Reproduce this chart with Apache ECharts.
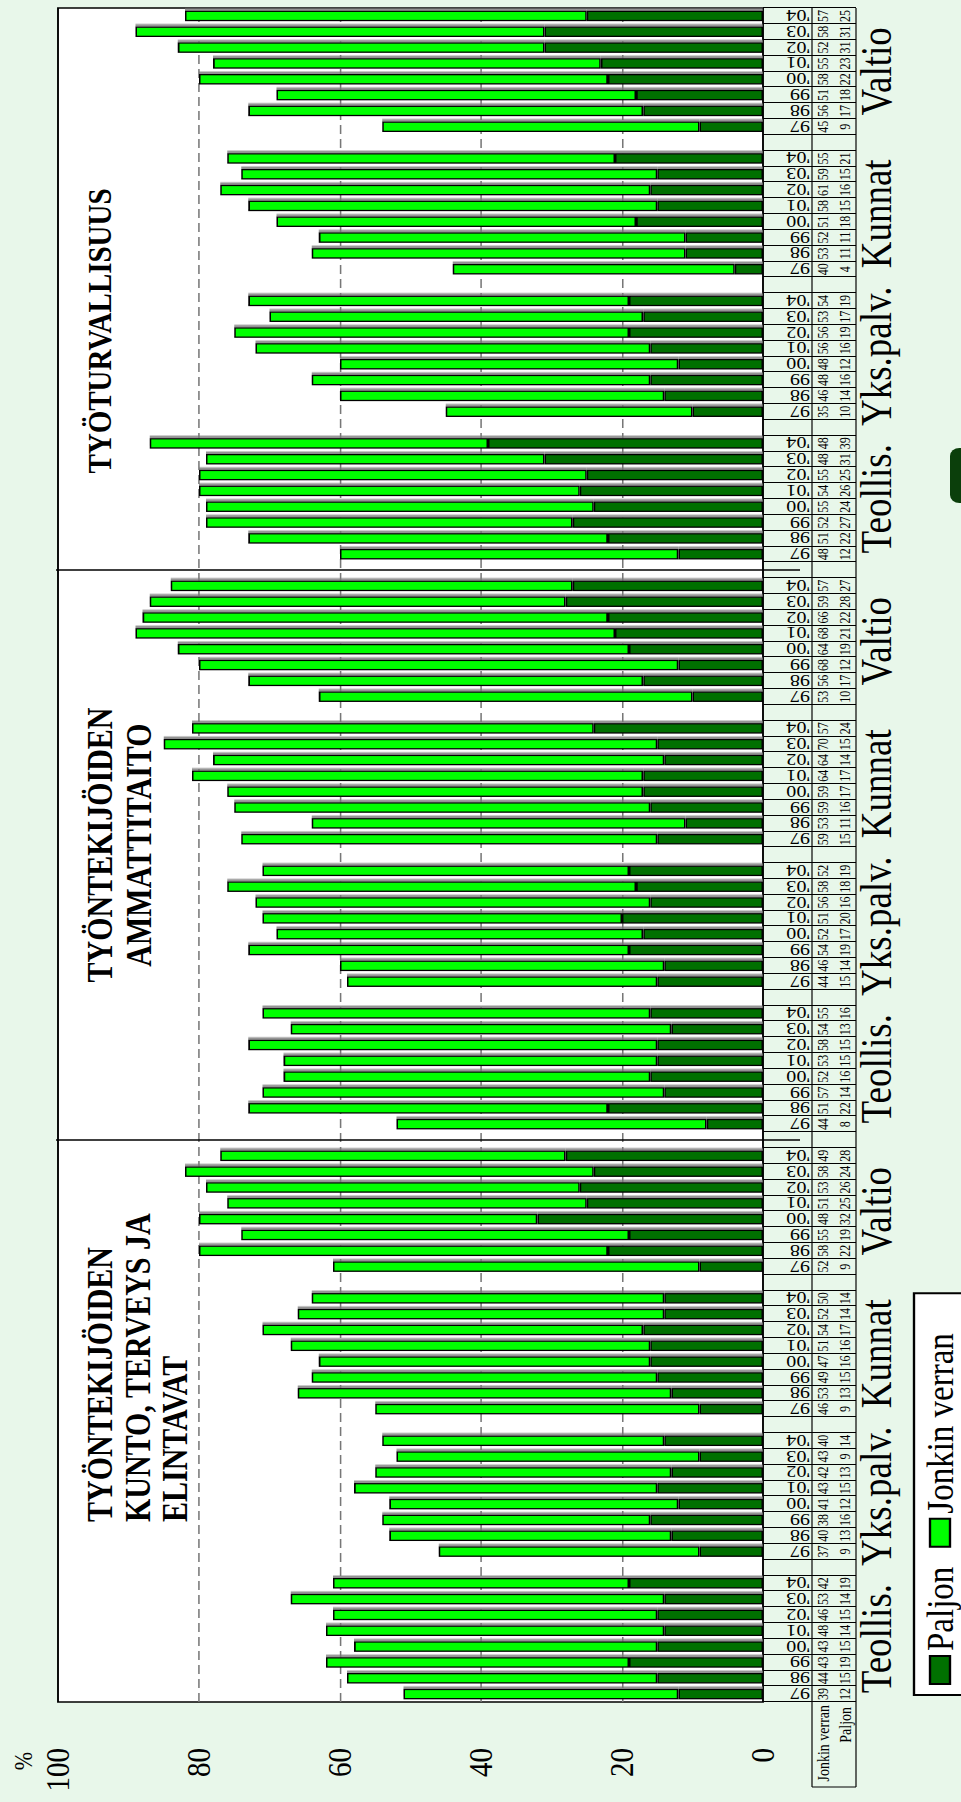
<!DOCTYPE html>
<html><head><meta charset="utf-8">
<script src="https://cdn.jsdelivr.net/npm/echarts@6/dist/echarts.min.js"></script>
<style>
html,body{margin:0;padding:0;width:961px;height:1802px;overflow:hidden;background:#e8f7ea;}
#wrap{position:absolute;left:0;top:0;width:1802px;height:814px;transform-origin:0 0;transform:translate(0px,1802px) rotate(-90deg) scale(1,1.180590);}
#chart{width:1802px;height:814px;}
</style></head>
<body>
<div id="wrap"><div id="chart"></div></div>
<script>
const years = ["97", "98", "99", "'00", "'01", "'02", "'03", "'04"];
const sectors = ["Teollis.", "Yks.palv.", "Kunnat", "Valtio"];
const titleKunto = ["TYÖNTEKIJÖIDEN", "KUNTO, TERVEYS JA", "ELINTAVAT"];
const titleAmmatti = ["TYÖNTEKIJÖIDEN", "AMMATTITAITO"];
const titleTurva = ["TYÖTURVALLISUUS"];
const seriesNames = ["Paljon", "Jonkin verran"];
const valueTicks = [0, 20, 40, 60, 80, 100];
// order: Teollis, Yks.palv., Kunnat, Valtio; years 97..04
const kuntoPaljon   = [12,15,19,15,14,15,14,19,  9,13,16,12,15,13, 9,14,  9,13,15,16,16,17,14,14,  9,22,19,32,25,26,24,28];
const kuntoJonkin   = [39,44,43,43,48,46,53,42, 37,40,38,41,43,42,43,40, 46,53,49,47,51,54,52,50, 52,58,55,48,51,53,58,49];
const ammattiPaljon = [ 8,22,14,16,15,15,13,16, 15,14,19,17,20,16,18,19, 15,11,16,17,17,14,15,24, 10,17,12,19,21,22,28,27];
const ammattiJonkin = [44,51,57,52,53,58,54,55, 44,46,54,52,51,56,58,52, 59,53,59,59,64,64,70,57, 53,56,68,64,68,66,59,57];
const turvaPaljon   = [12,22,27,24,26,25,31,39, 10,14,16,12,16,19,17,19,  4,11,11,18,15,16,15,21,  9,17,18,22,23,31,31,25];
const turvaJonkin   = [48,51,52,55,54,55,48,48, 35,46,48,48,56,56,53,54, 40,53,52,51,58,61,59,55, 45,56,51,58,55,52,58,57];

// ---- layout helpers ----
const H = 814, S = 961 / H;
const Y = v => v / S;
const FONT = "'Liberation Serif','Times New Roman',serif";

const groups = [[kuntoPaljon, kuntoJonkin], [ammattiPaljon, ammattiJonkin], [turvaPaljon, turvaJonkin]];
const cats = [], yearLab = [], pal = [], jon = [], palLab = [], jonLab = [], subStart = [];
groups.forEach((g) => {
  sectors.forEach((s, si) => {
    if (cats.length) { cats.push('gap' + cats.length); yearLab.push(''); pal.push(null); jon.push(null); palLab.push(''); jonLab.push(''); }
    subStart.push(cats.length);
    years.forEach((y, yi) => {
      const k = si * 8 + yi;
      cats.push('c' + cats.length);
      yearLab.push(y);
      pal.push(g[0][k]); jon.push(g[1][k]);
      palLab.push(String(g[0][k])); jonLab.push(String(g[1][k]));
    });
  });
});

const chart = echarts.init(document.getElementById('chart'), null, {renderer: 'svg', width: 1802, height: H});

const barStyle = (c) => ({color: c, borderColor: '#000', borderWidth: 1.3, shadowColor: 'rgba(120,120,120,0.8)', shadowOffsetX: 2.5, shadowOffsetY: 0, shadowBlur: 0});
const option = {
  animation: false,
  backgroundColor: '#e8f7ea',
  grid: {left: 100, right: 8, top: Y(58), bottom: H - Y(763), show: true, backgroundColor: '#fff', borderColor: '#000', borderWidth: 1.6},
  legend: {
    data: seriesNames, left: 107, top: Y(914), orient: 'horizontal', icon: 'rect',
    itemWidth: 28, itemHeight: Y(950) - Y(930), itemGap: 19,
    padding: [Y(940) - Y(914) - 16.5, 40, 40, 10],
    backgroundColor: '#fff', borderColor: '#000', borderWidth: 2, selectedMode: false,
    itemStyle: {shadowBlur: 0, shadowOffsetX: 0, shadowColor: 'transparent'},
    textStyle: {fontSize: 33, lineHeight: 33, fontFamily: FONT, color: '#000'}
  },
  xAxis: [
    {type: 'category', data: cats, position: 'bottom', boundaryGap: true,
     axisLine: {show: false},
     axisTick: {show: true, interval: 0, alignWithLabel: false, length: Y(856) - Y(763), lineStyle: {color: '#000', width: 1}},
     axisLabel: {interval: 0, rotate: 90, align: 'left', verticalAlign: 'middle', margin: Y(810) - Y(763), fontSize: 17, fontFamily: FONT, color: '#000', formatter: (v, i) => yearLab[i]},
     splitLine: {show: false}},
    {type: 'category', data: cats, position: 'bottom', axisLine: {show: false}, axisTick: {show: false},
     axisLabel: {interval: 0, verticalAlign: 'middle', margin: Y(823) - Y(763), fontSize: 12, fontFamily: FONT, color: '#000', formatter: (v, i) => jonLab[i]}},
    {type: 'category', data: cats, position: 'bottom', axisLine: {show: false}, axisTick: {show: false},
     axisLabel: {interval: 0, verticalAlign: 'middle', margin: Y(845) - Y(763), fontSize: 12, fontFamily: FONT, color: '#000', formatter: (v, i) => palLab[i]}}
  ],
  yAxis: {type: 'value', min: valueTicks[0], max: valueTicks[valueTicks.length - 1], interval: 20,
    axisLine: {show: false}, axisTick: {show: false},
    axisLabel: {margin: 46, fontSize: 29, fontFamily: FONT, color: '#000'},
    splitLine: {show: true, showMinLine: false, showMaxLine: false, lineStyle: {color: '#777', type: [9, 5], width: 1.3}}},
  series: [
    {name: seriesNames[0], type: 'bar', stack: 'a', data: pal, barWidth: 10.5, itemStyle: barStyle('#007000')},
    {name: seriesNames[1], type: 'bar', stack: 'a', data: jon, barWidth: 10.5, itemStyle: barStyle('#00ff00')}
  ]
};
chart.setOption(option);

// ---- annotations placed through the axis scale ----
const px = i => chart.convertToPixel({xAxisIndex: 0}, i);
const txt = (x, y, t, size, align, bold) => ({type: 'text', x: x, y: y, silent: true,
  style: {text: t, fontSize: size, fontFamily: FONT, fontWeight: bold ? 'bold' : 'normal', fill: '#000', textAlign: align, textVerticalAlign: 'middle'}});
const line = (x1, y1, x2, y2, w) => ({type: 'line', silent: true, shape: {x1, y1, x2, y2}, style: {stroke: '#000', lineWidth: w || 1}});

const g = [];
g.push(line(15, Y(812), px(cats.length - 1) + 8, Y(812), 1));
g.push(line(15, Y(856), px(cats.length - 1) + 8, Y(856), 1));
g.push(line(15, Y(812), 15, Y(856), 1));
g.push(txt(97, Y(823), 'Jonkin verran', 14, 'right'));
g.push(txt(95, Y(845), seriesNames[0], 14, 'right'));
// group dividers (middle of gap slot)
[35, 71].forEach(i => g.push(line(px(i), Y(56), px(i), Y(800), 1.6)));
// sector labels
subStart.forEach((st, k) => {
  const x = (px(st) + px(st + 7)) / 2;
  g.push(txt(x, Y(876), sectors[k % 4], 37, 'center'));
});
// group titles
titleKunto.forEach((t, k) => g.push(txt(280, Y([100, 138, 175][k]), t, 30, 'left', true)));
titleAmmatti.forEach((t, k) => g.push(txt(957, Y([100, 139][k]), t, 30, 'center', true)));
titleTurva.forEach((t) => g.push(txt(1471, Y(100), t, 29, 'center', true)));
// % sign
g.push(txt(50, Y(23), '%', 22, 'right'));
// stray dark rounded mark at the edge
g.push({type: 'rect', silent: true, shape: {x: 1299, y: Y(950), width: 55, height: 30, r: 8}, style: {fill: '#0b3f0b'}});
chart.setOption({graphic: g});
</script>
</body></html>
